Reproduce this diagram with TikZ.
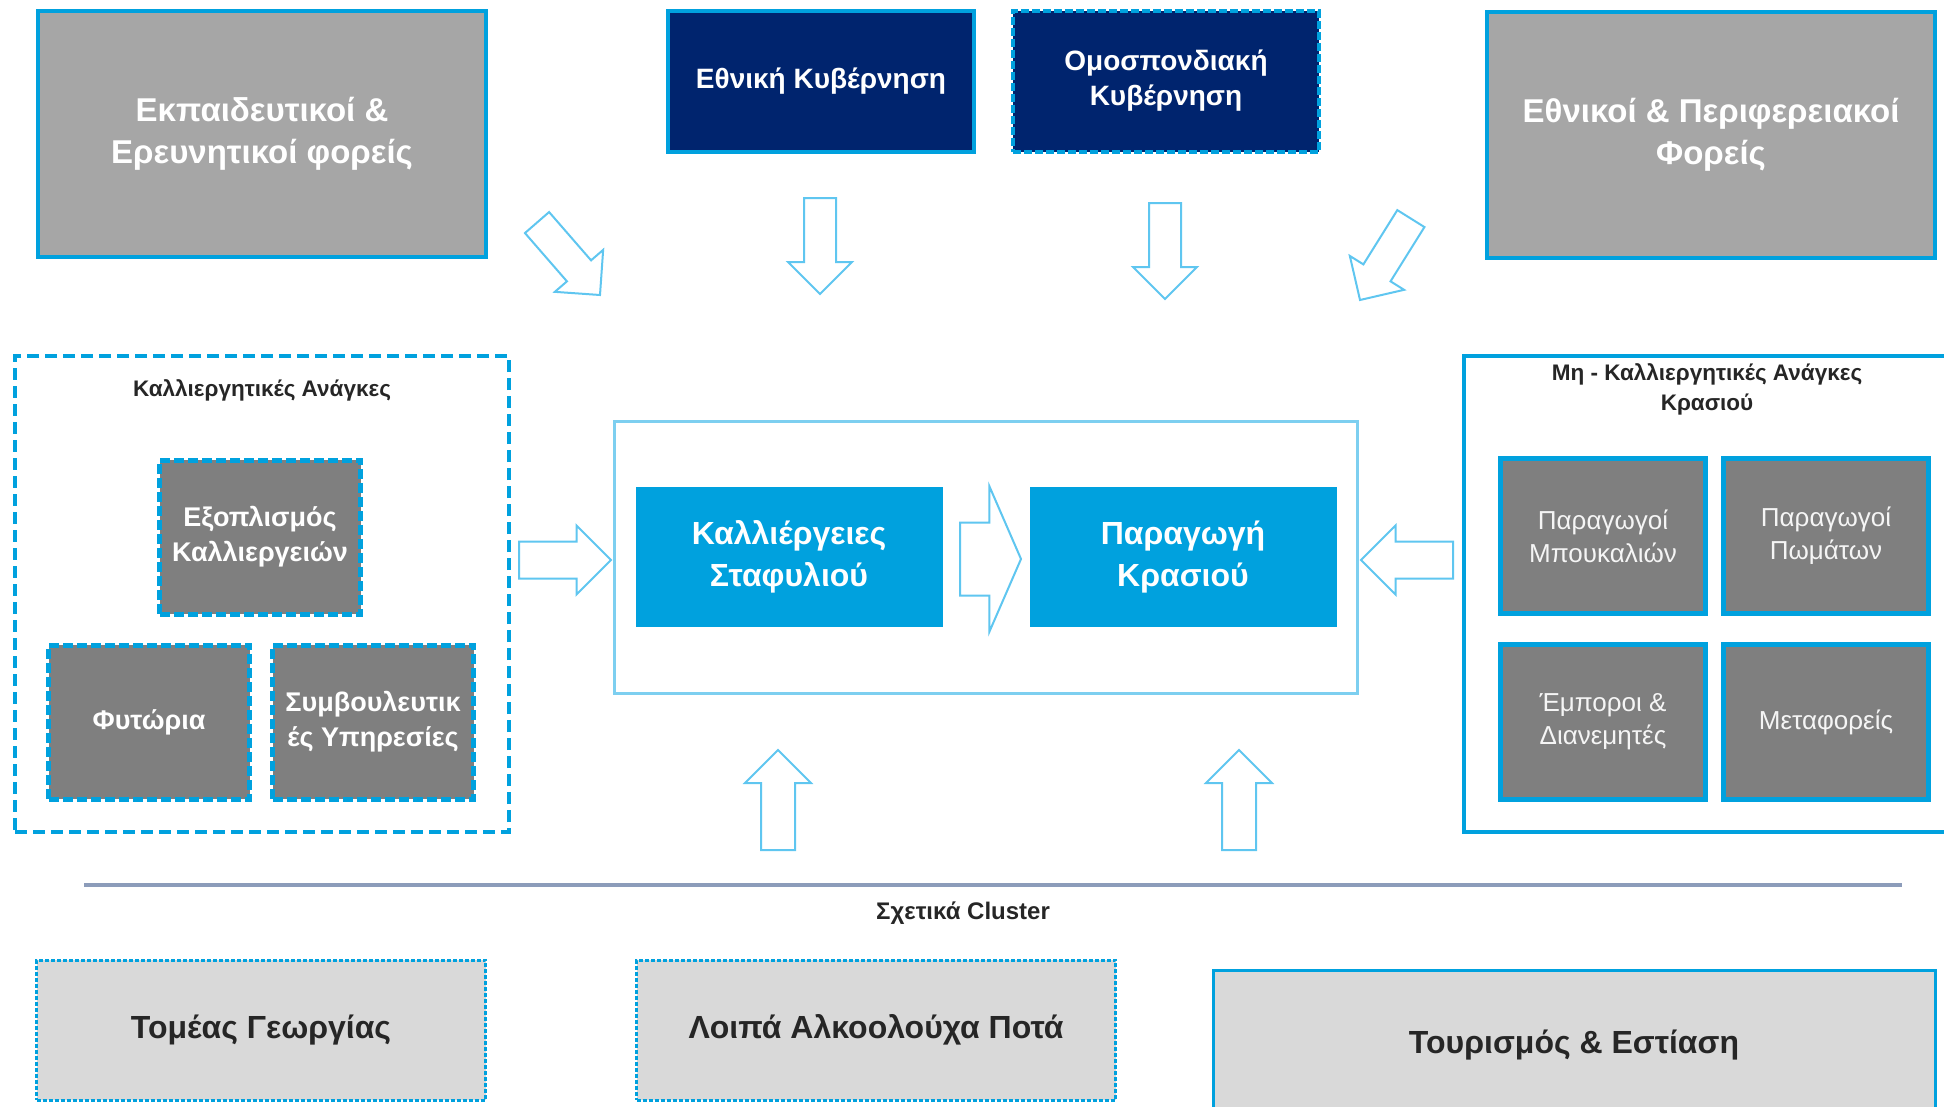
\documentclass[tikz,border=0pt]{standalone}
\usepackage{fontspec}
\setmainfont{Liberation Sans}
\usepackage{tikz}
\usetikzlibrary{arrows, backgrounds, calc, fit, positioning, shapes, shapes.arrows}

\definecolor{cblue}{RGB}{0,161,222}
\definecolor{navy}{RGB}{0,36,110}
\definecolor{agray}{RGB}{166,166,166}
\definecolor{dgray}{RGB}{127,127,127}
\definecolor{lgray}{RGB}{217,217,217}
\definecolor{ablue}{RGB}{95,198,240}
\definecolor{pblue}{RGB}{125,207,240}
\definecolor{rulecol}{RGB}{140,156,186}
\definecolor{ink}{RGB}{38,38,38}

\begin{document}
\begin{tikzpicture}[x=1pt, y=-1pt]
\tikzset{every node/.style={inner sep=0mm, outer sep=0mm, align=center}}

\tikzstyle{actor}=[draw=cblue, line width=4pt, fill=agray, text=white, minimum width=448pt, minimum height=246pt, font=\fontsize{33}{42}\selectfont\bfseries]
\tikzstyle{gov}=[draw=cblue, line width=4pt, fill=navy, text=white, minimum width=306pt, minimum height=141pt, font=\fontsize{28}{35}\selectfont\bfseries]
\tikzstyle{need}=[draw=cblue, line width=5pt, dash pattern=on 10pt off 4pt, fill=dgray, text=white, minimum width=201pt, minimum height=154pt, font=\fontsize{27}{35}\selectfont\bfseries]
\tikzstyle{supplier}=[draw=cblue, line width=5pt, fill=dgray, text=white!92!gray, minimum width=205pt, minimum height=155pt, font=\fontsize{26}{33}\selectfont]
\tikzstyle{core}=[fill=cblue, text=white, minimum width=307pt, minimum height=140pt, font=\fontsize{32}{42}\selectfont\bfseries]
\tikzstyle{related}=[fill=lgray, text=ink, minimum height=140pt, font=\fontsize{32}{38}\selectfont\bfseries]
\tikzstyle{title}=[text=ink, font=\fontsize{22.5}{29}\selectfont\bfseries]
\tikzstyle{flow}=[single arrow, anchor=tip, draw=ablue, line width=2pt, fill=white, inner xsep=0pt, inner ysep=15pt, text height=0pt, text depth=0pt, minimum width=0pt, minimum height=96pt, single arrow head extend=16pt, single arrow head indent=0pt]

\useasboundingbox (0,0) rectangle (1944,1106);

% top row
\node[actor] (edu) at (262,134) {Εκπαιδευτικοί \&\\Ερευνητικοί φορείς};
\node[gov] (natgov) at (821,81) {Εθνική Κυβέρνηση};
\node[gov, dash pattern=on 8pt off 3pt] (fedgov) at (1166,81) {Ομοσπονδιακή\\Κυβέρνηση};
\node[actor] (regional) at (1711,135) {Εθνικοί \& Περιφερειακοί\\Φορείς};

\node[flow, rotate=-49] (edu flow) at (600,295) {};
\node[flow, rotate=-90] (natgov flow) at (820,294) {};
\node[flow, rotate=-90] (fedgov flow) at (1165,299) {};
\node[flow, rotate=-122] (regional flow) at (1360,300) {};

% cultivation needs
\node[draw=cblue, line width=4pt, dash pattern=on 12pt off 6pt, fill=white, minimum width=494pt, minimum height=476pt] (cult box) at (262,594) {};
\node[title, below=24pt of cult box.north] (cult label) {Καλλιεργητικές Ανάγκες};
\node[need] (equip) at (260,537) {Εξοπλισμός\\Καλλιεργειών};
\node[need] (nursery) at (149,722) {Φυτώρια};
\node[need] (advice) at (373,722) {Συμβουλευτικ\\ές Υπηρεσίες};

% core
\node[core] (crop) at (789,557) {Καλλιέργειες\\Σταφυλιού};
\node[core] (wine) at (1183,557) {Παραγωγή\\Κρασιού};
\begin{scope}[on background layer]
    \node (core box) [draw=pblue, line width=3pt, fill=white, fit=(crop) (wine), inner xsep=21pt, inner ysep=66pt] {};
\end{scope}
\node[flow, minimum height=61pt, inner ysep=35.5pt, single arrow head extend=36pt, single arrow tip angle=133] (core flow) at (1021,559) {};

\node[flow, minimum height=92pt, inner ysep=17.5pt] (cult flow) at (611,560) {};
\node[flow, minimum height=92pt, inner ysep=17.5pt, rotate=180] (noncult flow) at (1361,560) {};

% non-cultivation needs
\node[draw=cblue, line width=4pt, fill=white, minimum width=500pt, minimum height=476pt] (noncult box) at (1714,594) {};
\node[title, font=\fontsize{22.5}{30}\selectfont\bfseries] (noncult label) at (1707,389) {Μη - Καλλιεργητικές Ανάγκες\\Κρασιού};
\node[supplier] (bottles) at (1603,536) {Παραγωγοί\\Μπουκαλιών};
\node[supplier] (corks) at (1826,536) {Παραγωγοί\\Πωμάτων};
\node[supplier] (traders) at (1603,722) {Έμποροι \&\\Διανεμητές};
\node[supplier] (carriers) at (1826,722) {Μεταφορείς};

\node[flow, minimum height=100pt, inner ysep=16pt, rotate=90] (crop up) at (778,750) {};
\node[flow, minimum height=100pt, inner ysep=16pt, rotate=90] (wine up) at (1239,750) {};

% related clusters
\coordinate (rule l) at (84,885);
\coordinate (rule r) at (1902,885);
\draw[rulecol, line width=4pt] (rule l) -- (rule r);
\node[title, font=\fontsize{24}{28}\selectfont\bfseries] (cluster label) at (963,913) {Σχετικά Cluster};

\node[related, draw=cblue, line width=3pt, dash pattern=on 4pt off 2pt, minimum width=449pt] (farming) at (261,1030) {Τομέας Γεωργίας};
\node[related, draw=cblue, line width=3pt, dash pattern=on 4pt off 2pt, minimum width=479pt] (spirits) at (876,1030) {Λοιπά Αλκοολούχα Ποτά};
\node[related, draw=cblue, line width=3pt, minimum width=722pt, minimum height=150pt] (tourism) at (1574,1045) {Τουρισμός \& Εστίαση};
\end{tikzpicture}
\end{document}
